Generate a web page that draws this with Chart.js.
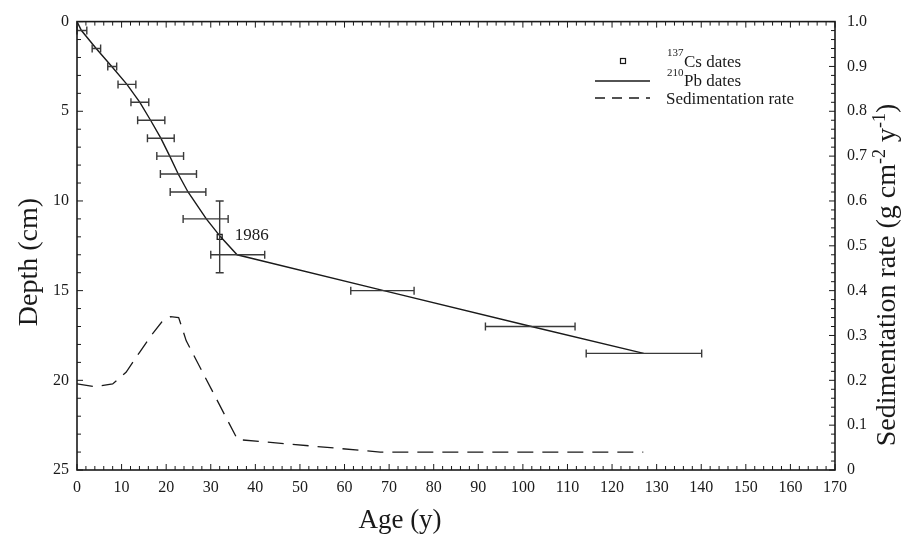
<!DOCTYPE html>
<html lang="en">
<head>
<meta charset="UTF-8">
<script src="https://cdn.jsdelivr.net/npm/chart.js@4.4.0/dist/chart.umd.min.js"></script>
<title>Core chronology</title>
<style>
  body { margin: 0; background: #fff; }
  #wrap { width: 919px; height: 536px; }
</style>
</head>
<body>
<div id="wrap"><canvas id="myChart"></canvas></div>
<script>
// 210Pb age-depth curve
var pbDepth = [0, 0.5, 1.5, 2.5, 3.5, 4.5, 5.5, 6.5, 7.5, 8.5, 9.5, 11, 12, 13, 15, 17, 18.5];
var pbAge   = [0, 1.0, 4.3, 7.8, 11.2, 14.1, 16.5, 18.8, 20.8, 22.7, 24.9, 29.0, 32.2, 35.9, 68.8, 101.9, 127.1];

// horizontal error bars on the 210Pb dates
var errDepth = [0.5, 1.5, 2.5, 3.5, 4.5, 5.5, 6.5, 7.5, 8.5, 9.5, 11, 13, 15, 17, 18.5];
var errMin   = [0, 3.4, 6.9, 9.2, 12.1, 13.6, 15.8, 17.9, 18.7, 20.9, 23.8, 30.0, 61.4, 91.6, 114.2];
var errMax   = [2.2, 5.3, 8.9, 13.2, 16.1, 19.7, 21.8, 23.9, 26.8, 28.9, 33.9, 42.1, 75.6, 111.7, 140.1];

// 137Cs marker
var csAge = [32];
var csDepth = [12];
var csDepthMin = [10];
var csDepthMax = [14];
var csLabel = ['1986'];

// sedimentation rate (g cm-2 y-1)
var rateAge   = [0, 4, 8, 11, 14, 16.5, 19, 21, 22.8, 24.5, 36, 68, 127];
var rateValue = [0.192, 0.186, 0.192, 0.218, 0.262, 0.298, 0.330, 0.342, 0.340, 0.288, 0.068, 0.040, 0.040];

var serif = "'Liberation Serif', 'DejaVu Serif', serif";
var ink = '#1a1a1a';

function pairs(xs, ys) {
  var out = [];
  for (var i = 0; i < xs.length; i++) out.push({ x: xs[i], y: ys[i] });
  return out;
}

// error bars + the 1986 label
var errorBars = {
  id: 'errorBars',
  afterDatasetsDraw: function (chart) {
    var c = chart.ctx, sx = chart.scales.x, sy = chart.scales.y;
    c.save();
    c.strokeStyle = '#3a3a3a';
    c.lineWidth = 1.4;
    c.beginPath();
    for (var i = 0; i < errDepth.length; i++) {
      var py = sy.getPixelForValue(errDepth[i]);
      var x1 = sx.getPixelForValue(errMin[i]), x2 = sx.getPixelForValue(errMax[i]);
      c.moveTo(x1, py); c.lineTo(x2, py);
      c.moveTo(x1, py - 4); c.lineTo(x1, py + 4);
      c.moveTo(x2, py - 4); c.lineTo(x2, py + 4);
    }
    for (var j = 0; j < csAge.length; j++) {
      var px = sx.getPixelForValue(csAge[j]);
      var y1 = sy.getPixelForValue(csDepthMin[j]), y2 = sy.getPixelForValue(csDepthMax[j]);
      c.moveTo(px, y1); c.lineTo(px, y2);
      c.moveTo(px - 4, y1); c.lineTo(px + 4, y1);
      c.moveTo(px - 4, y2); c.lineTo(px + 4, y2);
    }
    c.stroke();
    c.fillStyle = ink;
    c.font = '17px ' + serif;
    c.textBaseline = 'middle';
    for (var k = 0; k < csAge.length; k++) {
      c.fillText(csLabel[k], sx.getPixelForValue(csAge[k]) + 15, sy.getPixelForValue(csDepth[k]) - 1);
    }
    c.restore();
  }
};

// frame with small inward ticks on all four sides
function tickRun(c, scale, from, to, step, major, horizontal, edge, dir) {
  var n = Math.round((to - from) / step);
  for (var i = 0; i <= n; i++) {
    var v = from + i * step;
    var p = scale.getPixelForValue(v);
    var len = (i % major === 0) ? 6 : 4;
    if (horizontal) { c.moveTo(p, edge); c.lineTo(p, edge + dir * len); }
    else { c.moveTo(edge, p); c.lineTo(edge + dir * len, p); }
  }
}
var frameTicks = {
  id: 'frameTicks',
  afterDraw: function (chart) {
    var c = chart.ctx, a = chart.chartArea, s = chart.scales;
    c.save();
    c.strokeStyle = ink;
    c.lineWidth = 1;
    c.beginPath();
    tickRun(c, s.x, 0, 170, 2, 5, true, a.bottom, -1);
    tickRun(c, s.x, 0, 170, 2, 5, true, a.top, 1);
    tickRun(c, s.y, 0, 25, 1, 5, false, a.left, 1);
    tickRun(c, s.y2, 0, 1, 0.02, 5, false, a.right, -1);
    c.stroke();
    c.lineWidth = 1.6;
    c.strokeRect(a.left, a.top, a.right - a.left, a.bottom - a.top);
    c.restore();
  }
};

// axis titles (right one reads bottom-to-top and has superscripts)
var axisTitles = {
  id: 'axisTitles',
  afterDraw: function (chart) {
    var c = chart.ctx;
    c.save();
    c.fillStyle = ink;
    c.textBaseline = 'middle';
    c.textAlign = 'center';
    c.font = '27px ' + serif;
    c.fillText('Age (y)', 400, 521);

    c.save();
    c.translate(30, 262);
    c.rotate(-Math.PI / 2);
    c.font = '28px ' + serif;
    c.fillText('Depth (cm)', 0, 0);
    c.restore();

    var parts = [['Sedimentation rate (g cm', 0], ['-2', 1], [' y', 0], ['-1', 1], [')', 0]];
    var big = '28px ' + serif, small = '18px ' + serif;
    var total = 0;
    parts.forEach(function (p) { c.font = p[1] ? small : big; total += c.measureText(p[0]).width; });
    c.translate(886, 275 + total / 2);
    c.rotate(-Math.PI / 2);
    c.textAlign = 'left';
    c.textBaseline = 'alphabetic';
    var pos = 0;
    parts.forEach(function (p) {
      c.font = p[1] ? small : big;
      c.fillText(p[0], pos, p[1] ? -1 : 9);
      pos += c.measureText(p[0]).width;
    });
    c.restore();
  }
};

// legend with superscript isotope numbers
var isoLegend = {
  id: 'isoLegend',
  afterDraw: function (chart) {
    var c = chart.ctx;
    c.save();
    c.fillStyle = ink;
    c.strokeStyle = ink;
    c.textBaseline = 'alphabetic';
    // 137Cs
    c.lineWidth = 1.2;
    c.strokeRect(620.5, 58.5, 5, 5);
    c.font = '11px ' + serif;
    c.fillText('137', 667, 56);
    c.font = '17px ' + serif;
    c.fillText('Cs dates', 684, 67);
    // 210Pb
    c.lineWidth = 1.3;
    c.beginPath(); c.moveTo(595, 81); c.lineTo(650, 81); c.stroke();
    c.font = '11px ' + serif;
    c.fillText('210', 667, 76);
    c.font = '17px ' + serif;
    c.fillText('Pb dates', 684, 86);
    // sedimentation rate
    c.setLineDash([10, 7]);
    c.beginPath(); c.moveTo(595, 98); c.lineTo(650, 98); c.stroke();
    c.setLineDash([]);
    c.fillText('Sedimentation rate', 666, 104);
    c.restore();
  }
};

var ctx = document.getElementById('myChart');
new Chart(ctx, {
  type: 'scatter',
  data: {
    datasets: [{
      label: '210Pb dates',
      data: pairs(pbAge, pbDepth),
      showLine: true,
      borderColor: ink,
      borderWidth: 1.4,
      pointRadius: 0,
      xAxisID: 'x',
      yAxisID: 'y'
    }, {
      label: 'Sedimentation rate',
      data: pairs(rateAge, rateValue),
      showLine: true,
      borderColor: ink,
      borderWidth: 1.3,
      borderDash: [16, 9],
      pointRadius: 0,
      xAxisID: 'x',
      yAxisID: 'y2'
    }, {
      label: '137Cs dates',
      data: pairs(csAge, csDepth),
      pointStyle: 'rect',
      pointRadius: 3.5,
      borderColor: ink,
      borderWidth: 1.3,
      backgroundColor: 'rgba(0,0,0,0)',
      xAxisID: 'x',
      yAxisID: 'y'
    }]
  },
  options: {
    responsive: true,
    maintainAspectRatio: false,
    animation: false,
    layout: { padding: { top: 20, left: 0, right: 0, bottom: 0 } },
    plugins: { legend: { display: false }, tooltip: { enabled: false } },
    scales: {
      x: {
        type: 'linear', position: 'bottom', min: 0, max: 170,
        afterFit: function (s) { s.height = 66; },
        grid: { display: false, drawTicks: false },
        border: { display: false },
        ticks: { stepSize: 10, padding: 8, color: ink, font: { family: serif, size: 16 } }
      },
      y: {
        type: 'linear', position: 'left', min: 0, max: 25, reverse: true,
        afterFit: function (s) { s.width = 77; },
        grid: { display: false, drawTicks: false },
        border: { display: false },
        ticks: { stepSize: 5, padding: 8, color: ink, font: { family: serif, size: 16 } }
      },
      y2: {
        type: 'linear', position: 'right', min: 0, max: 1,
        afterFit: function (s) { s.width = 84; },
        grid: { display: false, drawTicks: false },
        border: { display: false },
        ticks: {
          stepSize: 0.1, padding: 12, color: ink, font: { family: serif, size: 16 },
          callback: function (v) { return v === 0 ? '0' : v.toFixed(1); }
        }
      }
    }
  },
  plugins: [errorBars, frameTicks, axisTitles, isoLegend]
});
</script>
</body>
</html>
